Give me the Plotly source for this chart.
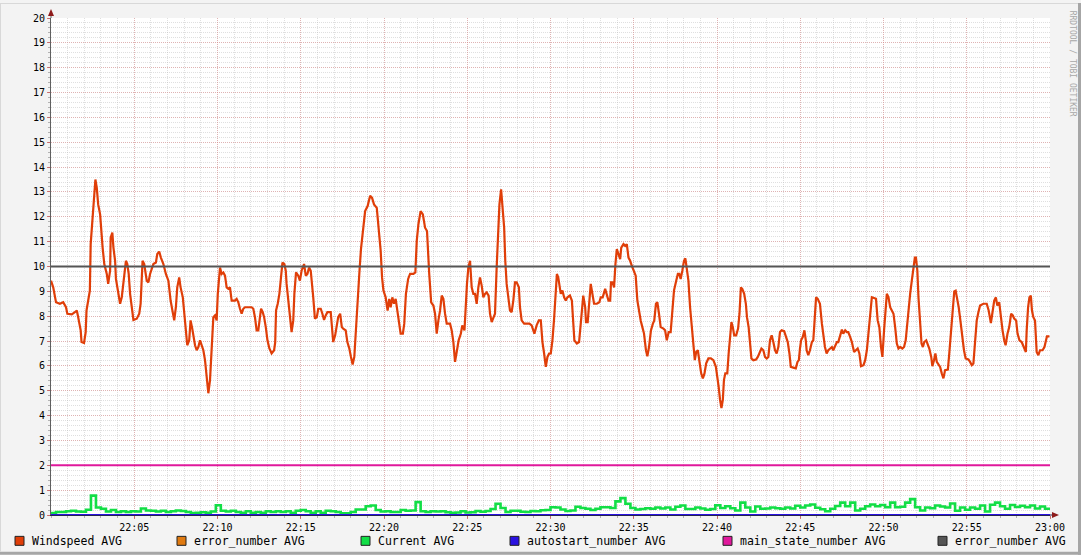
import pandas as pd
import plotly.graph_objects as go

BASE = pd.Timestamp("2024-01-01 22:00:00")

# ---- Windspeed AVG: (seconds after 22:00, value) ----
wind_t = [0, 8, 18, 32, 44, 54, 59, 75, 86, 93, 98, 107, 110, 119, 125, 128, 134, 140, 143, 149,
          155, 160, 165, 170, 177, 181, 186, 192, 201, 206, 213, 215, 221, 225, 231, 234, 243, 249, 255, 261,
          267, 270, 275, 280, 285, 291, 297, 309, 318, 323, 327, 330, 336, 345, 351, 357, 369, 378, 383, 390,
          396, 405, 414, 423, 431, 438, 444, 450, 455, 462, 467, 475, 480, 487, 491, 498, 503, 509, 513, 519,
          525, 531, 537, 543, 549, 555, 561, 567, 573, 577, 581, 585, 591, 597, 601, 605, 609, 615, 621, 627,
          633, 639, 645, 651, 663, 669, 675, 681, 687, 693, 699, 711, 723, 729, 735, 741, 747, 753, 757, 763,
          768, 774, 780, 787, 795, 804, 808, 811, 817, 823, 828, 834, 841, 846, 849, 855, 861, 867, 873, 877,
          883, 891,
          897, 903, 912, 918, 924, 930, 936, 940, 945, 951, 958, 963, 972, 978, 984, 990, 996, 1008, 1012, 1017,
          1024, 1030, 1035, 1042, 1048, 1053, 1062, 1068, 1075, 1081, 1087, 1093, 1098, 1104, 1111, 1117, 1126, 1132, 1141, 1150,
          1157, 1164, 1174, 1181, 1188, 1193, 1198, 1206, 1213, 1219, 1224, 1230, 1236, 1242, 1248, 1254, 1260, 1268, 1273, 1279,
          1287, 1294, 1306, 1313, 1318, 1324, 1332, 1340, 1348, 1355, 1359, 1363, 1370, 1378, 1384, 1390, 1396, 1402, 1408, 1414,
          1420, 1426, 1438, 1444, 1450, 1456, 1462, 1469, 1477, 1482, 1490, 1494, 1499, 1504, 1510, 1516, 1522, 1528, 1534, 1540,
          1546, 1552, 1558, 1564, 1570, 1577, 1582, 1588, 1594, 1600, 1606, 1611, 1616, 1622, 1627, 1633, 1637, 1642, 1648, 1654,
          1660, 1666, 1672, 1678, 1686, 1690, 1696, 1705, 1714, 1724, 1732, 1742, 1750, 1758, 1765, 1771, 1777, 1783, 1789, 1795,
          1801, 1807, 1813, 1817, 1823, 1828, 1834,
          1837, 1843, 1849, 1855, 1861, 1870, 1877, 1880, 1886, 1895, 1903, 1909, 1914, 1918, 1925, 1928, 1934, 1939, 1945, 1951,
          1957, 1967, 1976, 1981, 1988, 1997, 2003, 2009, 2015, 2018, 2024, 2029, 2034, 2039, 2045, 2051, 2055, 2063, 2069, 2075,
          2081, 2087, 2093, 2099, 2107, 2113, 2119, 2125, 2131, 2137, 2144, 2149, 2155, 2162, 2169, 2174, 2180, 2185, 2191, 2197,
          2207, 2213, 2219, 2226, 2233, 2239, 2245, 2253, 2259, 2264, 2269, 2275, 2281, 2286, 2291, 2297, 2303, 2309, 2315, 2320,
          2325, 2331, 2336, 2343, 2349, 2355, 2361, 2369, 2378, 2387, 2396, 2401, 2406, 2411, 2416, 2421, 2425, 2430, 2437, 2442,
          2447, 2452, 2457, 2462, 2469, 2476, 2481, 2486, 2491, 2498, 2504, 2508, 2514, 2519, 2524, 2531, 2541, 2547, 2553, 2560,
          2567, 2573, 2579, 2585, 2591, 2597, 2603, 2609, 2615, 2621, 2627, 2633, 2642, 2649, 2655, 2661, 2666, 2675, 2684, 2690,
          2695, 2699,
          2703, 2709, 2715, 2720, 2723, 2729, 2735, 2742, 2747, 2751, 2757, 2763, 2771, 2778, 2783, 2789, 2795, 2801, 2808, 2814,
          2819, 2826, 2832, 2837, 2844, 2850, 2855, 2862, 2868, 2873, 2880, 2886, 2894, 2901, 2907, 2913, 2919, 2928, 2934, 2940,
          2946, 2952, 2958, 2966, 2973, 2979, 2985, 2991, 2996, 3002, 3007, 3012, 3018, 3024, 3030, 3036, 3042, 3048, 3054, 3060,
          3068, 3074, 3080, 3084, 3090, 3096, 3102, 3108, 3113, 3117, 3122, 3126, 3132, 3137, 3142, 3147, 3154, 3160, 3165, 3172,
          3176, 3182, 3187, 3192, 3198, 3204, 3210, 3216, 3222, 3232, 3237, 3244, 3250, 3255, 3260, 3265, 3271, 3277, 3284, 3290,
          3296, 3306, 3312, 3318, 3324, 3330, 3336, 3342, 3348, 3360, 3372, 3379, 3387, 3392, 3399, 3405, 3410, 3417, 3423, 3429,
          3435, 3440, 3447, 3453, 3460, 3466, 3471, 3478, 3483, 3490, 3498, 3507, 3513, 3516, 3521, 3526, 3531, 3535, 3540, 3546,
          3552, 3558, 3564, 3573, 3580, 3589, 3598]

wind_v = [9.43, 9.16, 8.56, 8.5, 8.56, 8.36, 8.1, 8.07, 8.16, 8.23, 7.96, 7.43, 6.96, 6.92, 7.36, 8.23, 8.63, 9.03, 10.9, 11.83,
          12.9, 13.5, 13.16, 12.5, 12.1, 11.36, 10.76, 10.1, 9.7, 9.3, 9.83, 11.16, 11.36, 10.76, 10.23, 9.5, 8.96, 8.5, 8.76, 9.3,
          9.83, 10.23, 10.1, 9.7, 8.9, 8.23, 7.85, 7.9, 8.1, 8.5, 9.83, 10.23, 10.1, 9.43, 9.36, 9.7, 10.1, 10.16, 10.5, 10.6,
          10.36, 10.1, 9.7, 9.43, 8.63, 8.1, 7.83, 8.36, 9.16, 9.56, 9.16, 8.76, 8.1, 7.3, 6.83, 7.03, 7.83, 7.5, 7.16, 6.83,
          6.63, 6.76, 7.03, 6.83, 6.63, 6.23, 5.43, 4.9, 5.43, 6.23, 7.43, 7.96, 8.03, 7.83, 8.9, 9.7, 9.96, 9.7, 9.76, 9.63,
          9.16, 9.1, 9.16, 8.63, 8.63, 8.7, 8.56, 8.3, 8.1, 8.3, 8.36, 8.36, 8.36, 8.3, 7.96, 7.43, 7.43, 7.96, 8.3, 8.16,
          7.96, 7.56, 7.03, 6.7, 6.5, 6.63, 6.96, 8.23, 8.5, 8.9, 9.56, 10.16, 10.1, 9.83, 9.3, 8.63, 8.1, 7.36, 7.83, 8.9,
          9.76, 9.63,
          9.43, 9.83, 10.1, 9.63, 9.7, 9.96, 9.83, 9.16, 8.76, 7.9, 7.96, 8.3, 8.3, 8.1, 7.85, 8.03, 8.16, 8.16, 7.63, 6.96,
          7.23, 7.7, 7.96, 8.1, 7.56, 7.5, 7.43, 6.96, 6.7, 6.36, 6.06, 6.36, 7.43, 8.63, 9.7, 10.7, 11.76, 12.23, 12.43, 12.85,
          12.76, 12.5, 12.36, 11.43, 10.63, 9.56, 9.03, 8.76, 8.23, 8.7, 8.36, 8.76, 8.5, 8.7, 8.23, 7.83, 7.3, 7.3, 7.7, 8.9,
          9.5, 9.7, 9.7, 9.76, 11.03, 11.7, 12.23, 12.1, 11.56, 11.43, 10.23, 9.7, 8.56, 8.43, 8.1, 7.3, 7.83, 8.23, 8.83, 8.7,
          8.1, 7.7, 7.7, 7.43, 6.96, 6.16, 6.56, 7.03, 7.3, 7.63, 7.43, 8.36, 9.3, 9.96, 10.23, 9.16, 8.9, 8.9, 8.5, 9.16,
          9.56, 9.23, 8.76, 8.9, 8.96, 8.83, 8.1, 7.76, 7.96, 8.1, 9.96, 11.56, 12.5, 13.1, 12.5, 11.56, 10.23, 9.3, 8.76, 8.23,
          8.16, 8.63, 9.36, 9.36, 9.16, 8.36, 7.83, 7.7, 7.7, 7.7, 7.63, 7.3, 7.63, 7.83, 7.83, 6.96, 6.5, 5.96, 6.36, 6.5,
          6.5, 7.03, 7.9, 8.63, 9.7, 9.56, 8.96,
          8.9, 9.03, 8.76, 8.63, 8.76, 8.83, 8.63, 8.1, 7.03, 6.9, 6.96, 7.7, 8.36, 8.83, 8.36, 7.76, 7.76, 8.36, 9.3, 8.9,
          8.5, 8.5, 8.56, 8.76, 8.76, 9.1, 8.9, 8.63, 8.63, 9.36, 9.36, 9.16, 10.1, 10.7, 10.5, 10.3, 10.76, 10.9, 10.83, 10.9,
          10.36, 10.23, 10.03, 9.83, 9.63, 8.63, 8.16, 7.83, 7.56, 7.3, 6.63, 6.39, 6.76, 7.43, 7.7, 7.83, 8.5, 8.56, 8.1, 7.56,
          7.5, 7.43, 7.03, 7.36, 7.36, 8.36, 9.03, 9.43, 9.7, 9.7, 9.5, 9.83, 10.23, 10.33, 9.83, 9.43, 8.36, 7.7, 6.9, 6.23,
          6.56, 6.63, 6.23, 5.7, 5.5, 5.7, 6.1, 6.3, 6.3, 6.23, 5.96, 5.63, 5.16, 4.63, 4.3, 4.63, 5.43, 5.7, 5.7, 6.5,
          7.16, 7.76, 7.56, 7.23, 7.23, 7.5, 8.1, 9.16, 9.1, 8.9, 8.5, 7.96, 7.56, 6.9, 6.3, 6.23, 6.26, 6.36, 6.56, 6.7,
          6.63, 6.36, 6.3, 6.36, 7.03, 7.23, 6.96, 6.63, 6.5, 6.76, 7.36, 7.43, 7.4, 7.16, 6.96, 6.5, 5.96, 5.93, 5.9, 6.16,
          6.23, 6.7,
          7.03, 7.16, 7.43, 7.03, 6.63, 6.43, 6.63, 6.96, 7.03, 7.7, 8.76, 8.7, 8.5, 7.7, 7.16, 6.76, 6.5, 6.63, 6.7, 6.76,
          6.63, 6.83, 6.96, 6.96, 7.3, 7.46, 7.3, 7.43, 7.36, 7.36, 7.16, 6.96, 6.56, 6.63, 6.7, 6.5, 5.99, 6.03, 6.23, 6.63,
          7.3, 7.96, 8.76, 8.73, 8.7, 7.83, 7.56, 6.76, 6.36, 7.43, 8.1, 8.9, 8.76, 8.36, 8.23, 8.1, 7.56, 6.9, 6.7, 6.76,
          6.7, 6.76, 7.03, 7.56, 8.1, 8.9, 9.43, 9.96, 10.36, 10.36, 9.83, 8.76, 7.83, 6.9, 6.76, 6.96, 7.03, 6.83, 6.7, 6.36,
          5.99, 6.23, 6.5, 6.16, 6.03, 5.96, 5.7, 5.5, 5.83, 5.85, 6.5, 7.43, 8.23, 9.0, 9.03, 8.76, 8.36, 7.83, 7.03, 6.63,
          6.3, 6.26, 6.16, 6.03, 6.1, 7.03, 7.83, 8.16, 8.43, 8.5, 8.5, 8.23, 7.72, 8.1, 8.63, 8.76, 8.43, 8.56, 7.96, 7.43,
          7.03, 6.83, 7.3, 7.56, 8.1, 8.03, 7.9, 7.83, 7.3, 7.03, 6.96, 6.76, 6.56, 7.43, 8.36, 8.76, 8.83, 8.23, 7.96, 7.83,
          6.56, 6.43, 6.63, 6.63, 6.76, 7.19, 7.19]

# ---- Current AVG: one value every 18 s from 22:00 ----
current_step_s = 18
current_v = [0.08, 0.12, 0.12, 0.15, 0.17, 0.14, 0.13, 0.21, 0.78, 0.3, 0.25, 0.14, 0.2, 0.12, 0.15, 0.12, 0.15, 0.14, 0.26, 0.18,
             0.17, 0.14, 0.17, 0.12, 0.15, 0.18, 0.16, 0.12, 0.08, 0.09, 0.11, 0.09, 0.14, 0.39, 0.17, 0.14, 0.17, 0.12, 0.09, 0.15,
             0.09, 0.12, 0.09, 0.15, 0.12, 0.15, 0.12, 0.15, 0.09, 0.17, 0.2, 0.15, 0.09, 0.15, 0.09, 0.17, 0.15, 0.12, 0.07, 0.07,
             0.12, 0.22, 0.22, 0.35, 0.38, 0.2, 0.14, 0.15,
             0.12, 0.12, 0.2, 0.17, 0.18, 0.52, 0.15, 0.12, 0.15, 0.14, 0.15, 0.11, 0.09, 0.1, 0.15, 0.1, 0.11, 0.16, 0.13, 0.16,
             0.24, 0.45, 0.28, 0.12, 0.17, 0.17, 0.13, 0.12, 0.16, 0.15, 0.19, 0.2, 0.31, 0.3, 0.22, 0.16, 0.18, 0.33, 0.28, 0.25,
             0.2, 0.25, 0.31, 0.31, 0.28, 0.55, 0.68, 0.45, 0.28, 0.22, 0.24, 0.27, 0.25, 0.3, 0.26, 0.3, 0.22, 0.33, 0.38, 0.24,
             0.24, 0.3, 0.26, 0.21, 0.24, 0.39, 0.28,
             0.35, 0.27, 0.18, 0.5, 0.3, 0.14, 0.34, 0.25, 0.26, 0.3, 0.27, 0.25, 0.3, 0.26, 0.37, 0.3, 0.38, 0.42, 0.29, 0.23,
             0.15, 0.25, 0.36, 0.5, 0.35, 0.5, 0.18, 0.25, 0.35, 0.42, 0.35, 0.4, 0.31, 0.5, 0.31, 0.33, 0.5, 0.64, 0.31, 0.18,
             0.3, 0.27, 0.38, 0.34, 0.3, 0.46, 0.17, 0.3, 0.21, 0.3, 0.25, 0.38, 0.14, 0.41, 0.5, 0.35, 0.25, 0.4, 0.32, 0.37,
             0.31, 0.38, 0.26, 0.34, 0.25, 0.25]

# ---- constant series ----
flat_t = [0, 3600]
error_v = [0, 0]
autostart_v = [0, 0]
main_state_v = [2, 2]
error2_v = [10, 10]

tick_labels = ["22:05", "22:10", "22:15", "22:20", "22:25", "22:30",
               "22:35", "22:40", "22:45", "22:50", "22:55", "23:00"]
y_ticks = list(range(0, 21))

legend_names = ["Windspeed AVG", "error_number AVG", "Current AVG",
                "autostart_number AVG", "main_state_number AVG", "error_number AVG"]
colors = ["#E03E08", "#E07A10", "#12DE46", "#2A12E0", "#E0189C", "#555555"]
widths = [2.2, 2, 2.6, 2, 2, 2]

FONT = "DejaVu Sans Mono"
W, H = 1081, 555
L, R, T, B = 51, 31, 15, 40
PW, PH = W - L - R, H - T - B


def ts(secs):
    return [BASE + pd.Timedelta(seconds=s) for s in secs]


def px(x):  # pixel -> paper x
    return (x - L) / PW


def py(y):  # pixel -> paper y
    return (H - B - y) / PH


current_t = [i * current_step_s for i in range(len(current_v))]

fig = go.Figure()
series = [
    (wind_t, wind_v, "linear"),
    (flat_t, error_v, "linear"),
    (current_t, current_v, "hv"),
    (flat_t, autostart_v, "linear"),
    (flat_t, main_state_v, "linear"),
    (flat_t, error2_v, "linear"),
]
for (t, v, shape), name, col, w in zip(series, legend_names, colors, widths):
    fig.add_trace(go.Scatter(x=ts(t), y=v, mode="lines", name=name,
                             line=dict(color=col, width=w, shape=shape),
                             showlegend=False, hoverinfo="skip"))

major_grid = "rgba(225,120,120,0.42)"
minor_grid = "rgba(185,185,185,0.45)"

fig.update_xaxes(
    range=[BASE, BASE + pd.Timedelta(hours=1)],
    tickmode="array",
    tickvals=[pd.Timestamp("2024-01-01 " + s) for s in tick_labels],
    ticktext=tick_labels,
    showgrid=True, gridcolor=major_grid, griddash="1px,1px", gridwidth=1,
    ticks="outside", ticklen=3, tickcolor="rgba(200,90,90,0.8)",
    minor=dict(dtick=60000, tick0=BASE, showgrid=True, gridcolor=minor_grid,
               griddash="1px,1px", ticks="outside", ticklen=2, tickcolor="rgba(150,150,150,0.7)"),
    showline=True, linecolor="#24244e", linewidth=1,
    tickfont=dict(family=FONT, size=10, color="#000000"),
    zeroline=False, fixedrange=True,
)
fig.update_yaxes(
    range=[0, 20],
    tickmode="array", tickvals=y_ticks, ticktext=[str(v) for v in y_ticks],
    showgrid=True, gridcolor=major_grid, griddash="1px,1px", gridwidth=1,
    ticks="outside", ticklen=3, tickcolor="rgba(200,90,90,0.8)",
    minor=dict(dtick=0.2, tick0=0, showgrid=True, gridcolor=minor_grid,
               griddash="1px,1px", ticks="outside", ticklen=2, tickcolor="rgba(150,150,150,0.7)"),
    showline=True, linecolor="#606060", linewidth=1,
    tickfont=dict(family=FONT, size=10, color="#000000"),
    zeroline=False, fixedrange=True,
)

shapes = []
annotations = []
# axis extensions and arrows
shapes.append(dict(type="line", xref="paper", yref="paper", x0=0, x1=0, y0=1, y1=py(9),
                   line=dict(color="#606060", width=1)))
shapes.append(dict(type="line", xref="paper", yref="paper", x0=1, x1=px(1054), y0=0, y1=0,
                   line=dict(color="#24244e", width=1)))
shapes.append(dict(type="path", xref="paper", yref="paper",
                   path=f"M {px(48)},{py(13)} L {px(54)},{py(13)} L {px(51)},{py(6)} Z",
                   fillcolor="#8E1B1B", line=dict(width=0)))
shapes.append(dict(type="path", xref="paper", yref="paper",
                   path=f"M {px(1052)},{py(512)} L {px(1052)},{py(518)} L {px(1059)},{py(515)} Z",
                   fillcolor="#8E1B1B", line=dict(width=0)))
# outer frame
shapes.append(dict(type="rect", xref="paper", yref="paper", x0=px(1078), x1=px(W), y0=py(H), y1=py(0),
                   fillcolor="#A6A6A6", line=dict(width=0)))
shapes.append(dict(type="rect", xref="paper", yref="paper", x0=px(0), x1=px(W), y0=py(H), y1=py(552),
                   fillcolor="#A6A6A6", line=dict(width=0)))
shapes.append(dict(type="rect", xref="paper", yref="paper", x0=px(0), x1=px(1078), y0=py(1), y1=py(0),
                   fillcolor="#D8D8D8", line=dict(width=0)))
shapes.append(dict(type="rect", xref="paper", yref="paper", x0=px(0), x1=px(1), y0=py(552), y1=py(0),
                   fillcolor="#D8D8D8", line=dict(width=0)))

# custom legend
legend_x = [15, 177, 361, 510, 723, 938]
for x0, name, col in zip(legend_x, legend_names, colors):
    shapes.append(dict(type="rect", xref="paper", yref="paper",
                       x0=px(x0), x1=px(x0 + 9), y0=py(545.5), y1=py(536.5),
                       fillcolor=col, line=dict(color="#222222", width=1)))
    annotations.append(dict(xref="paper", yref="paper", x=px(x0 + 15), y=py(541),
                            xanchor="left", yanchor="middle", showarrow=False, text=name,
                            font=dict(family=FONT, size=11.5, color="#000000")))

annotations.append(dict(xref="paper", yref="paper", x=px(1072), y=py(61), textangle=90,
                        xanchor="center", yanchor="middle", showarrow=False,
                        text="RRDTOOL / TOBI OETIKER",
                        font=dict(family=FONT, size=8, color="#A8A8A8")))

fig.update_layout(
    width=W, height=H, autosize=False,
    margin=dict(l=L, r=R, t=T, b=B, pad=0),
    paper_bgcolor="#F3F3F3", plot_bgcolor="#FFFFFF",
    shapes=shapes, annotations=annotations,
    showlegend=False,
)

fig.write_html("out.html", config={"displayModeBar": False},
               post_script="document.body.style.margin='0';document.body.style.overflow='hidden';")
